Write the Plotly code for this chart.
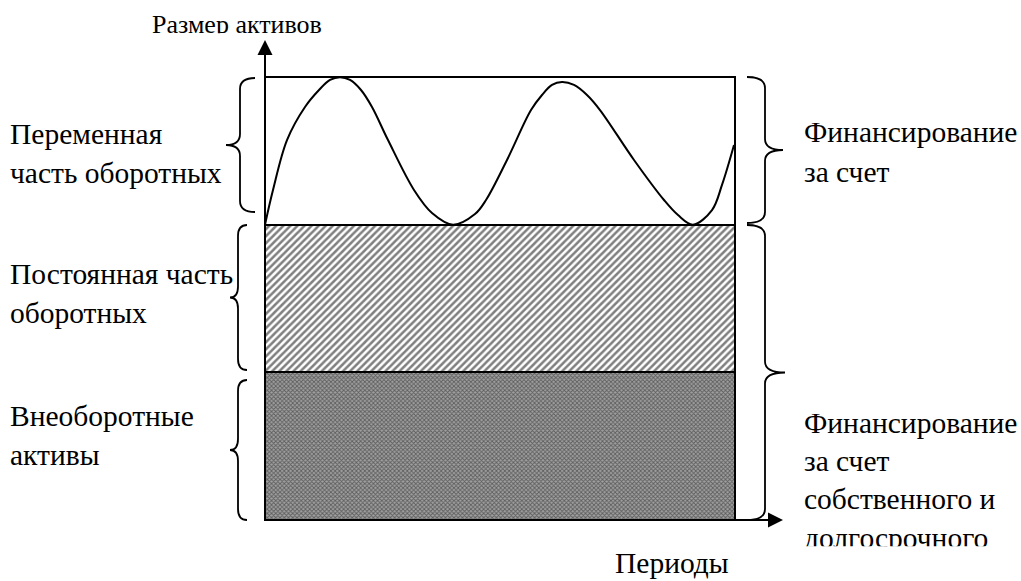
import plotly.graph_objects as go

# ---------------- data ----------------
band_names = ["Внеоборотные активы", "Постоянная часть оборотных", "Переменная часть оборотных"]
band_sizes = [1.0, 1.0, 1.0]
horizon = 4.7  # length of the period axis shown in the box

# total assets level over time (variable part rides on top of the permanent level)
period_t = [0.00, 0.08, 0.22, 0.40, 0.54, 0.65, 0.75, 0.85, 0.96, 1.07, 1.23, 1.49, 1.67, 1.88,
            2.10, 2.21, 2.42, 2.66, 2.77, 2.87, 2.97, 3.09, 3.22, 3.35, 3.69, 3.99, 4.13, 4.28,
            4.47, 4.57, 4.69]
asset_level = [2.000, 2.235, 2.573, 2.797, 2.912, 2.980, 2.998, 2.980, 2.912, 2.797, 2.573, 2.235,
               2.079, 2.000, 2.072, 2.167, 2.438, 2.776, 2.878, 2.946, 2.966, 2.946, 2.878, 2.776,
               2.438, 2.167, 2.065, 2.000, 2.099, 2.269, 2.539]

y_title = "Размер активов"
x_title = "Периоды"
left_lines = ["Переменная", "часть оборотных", "Постоянная часть", "оборотных", "Внеоборотные", "активы"]
right_top_lines = ["Финансирование", "за счет"]
right_bottom_lines = ["Финансирование", "за счет", "собственного и", "долгосрочного"]

# ---------------- geometry helpers (pixel -> data) ----------------
W, H = 1021, 581
PLOT_BOTTOM = 546
X0_PX, Y0_PX = 265, 520
PX_PER_X = 100.0
PX_PER_Y = (520 - 77) / sum(band_sizes)


def X(px):
    return (px - X0_PX) / PX_PER_X


def Y(py):
    return (Y0_PX - py) / PX_PER_Y


def paper_y(py):
    return (PLOT_BOTTOM - py) / PLOT_BOTTOM


FONT = '"Times New Roman", "Liberation Serif", Times, serif'
FS = 29.5
MID = 0.37  # baseline offset (em) below the centre of a middle-anchored annotation
ASC = 0.891  # ascent (em) used for top-anchored clipped annotations

fig = go.Figure()

# stacked bands
fills = [
    dict(shape="x", fgcolor="#1a1a1a", bgcolor="#a0a0a0", size=3, solidity=0.5),
    dict(shape="/", fgcolor="#000000", bgcolor="#ffffff", size=5, solidity=0.5),
    None,
]
base = 0.0
for name, size, pat in zip(band_names, band_sizes, fills):
    marker = dict(color="white", line=dict(color="black", width=2))
    if pat:
        marker["pattern"] = pat
    fig.add_trace(go.Bar(x=[horizon / 2], y=[size], base=[base], width=[horizon],
                         marker=marker, name=name, hoverinfo="name"))
    base += size

# variable assets curve
fig.add_trace(go.Scatter(x=period_t, y=asset_level, mode="lines",
                         line=dict(color="black", width=2, shape="spline", smoothing=1),
                         hoverinfo="skip"))


# braces
def brace(y0, y1, x_end, x_stem, x_tip, r=11):
    ym = (y0 + y1) / 2
    pts = [
        ("M", [(x_end, y0)]),
        ("Q", [(x_stem, y0), (x_stem, y0 + r)]),
        ("L", [(x_stem, ym - r)]),
        ("Q", [(x_stem, ym), (x_tip, ym)]),
        ("Q", [(x_stem, ym), (x_stem, ym + r)]),
        ("L", [(x_stem, y1 - r)]),
        ("Q", [(x_stem, y1), (x_end, y1)]),
    ]
    s = ""
    for cmd, ps in pts:
        s += cmd + " " + " ".join(f"{X(a):.4f},{Y(b):.4f}" for a, b in ps) + " "
    return dict(type="path", path=s.strip(), xref="x", yref="y",
                line=dict(color="black", width=1.8), layer="above")


shapes = [
    brace(78, 212, 255, 240, 226),
    brace(225, 370, 247, 238, 230),
    brace(380, 520, 247, 238, 230),
    brace(77, 223, 747, 765, 783),
    brace(225, 520, 747, 765, 785),
]


def label(text, x_px, baseline, size=FS, clip_bottom=None):
    a = dict(x=X(x_px), xref="x", yref="paper", text=text, showarrow=False,
             xanchor="left", align="left", borderpad=0, borderwidth=0,
             font=dict(family=FONT, size=size, color="black"))
    if clip_bottom is None:
        a.update(y=paper_y(baseline - MID * size), yanchor="middle")
    else:
        top = baseline - ASC * size
        a.update(y=paper_y(top), yanchor="top", valign="top", height=clip_bottom - top)
    return a


annotations = [
    # axes arrows
    dict(x=0, y=Y(40), ax=0, ay=0, xref="x", yref="y", axref="x", ayref="y", text="",
         showarrow=True, arrowhead=2, arrowsize=1.5, arrowwidth=2, arrowcolor="black", standoff=0),
    dict(x=X(783), y=0, ax=0, ay=0, xref="x", yref="y", axref="x", ayref="y", text="",
         showarrow=True, arrowhead=2, arrowsize=1.5, arrowwidth=2, arrowcolor="black", standoff=0),
    label(x_title, 615, 574),
    label(y_title, 152, 33, size=26, clip_bottom=33),
]
for txt, b in zip(left_lines, [145, 184, 285, 324, 427, 466]):
    annotations.append(label(txt, 10, b))
for txt, b in zip(right_top_lines, [143, 183]):
    annotations.append(label(txt, 804, b))
for i, (txt, b) in enumerate(zip(right_bottom_lines, [434, 472, 510, 548])):
    last = i == len(right_bottom_lines) - 1
    annotations.append(label(txt, 804, b, clip_bottom=546 if last else None))

fig.update_layout(
    width=W, height=H,
    margin=dict(l=0, r=0, t=0, b=H - PLOT_BOTTOM, pad=0),
    paper_bgcolor="white", plot_bgcolor="white",
    font=dict(family=FONT),
    showlegend=False, barmode="overlay", bargap=0,
    shapes=shapes, annotations=annotations,
    xaxis=dict(range=[X(0), X(W)], visible=False, fixedrange=True),
    yaxis=dict(range=[Y(PLOT_BOTTOM), Y(0)], visible=False, fixedrange=True),
)

fig.write_html("out.html", config={"displayModeBar": False},
               post_script="document.body.style.margin='0';document.body.style.overflow='hidden';")
